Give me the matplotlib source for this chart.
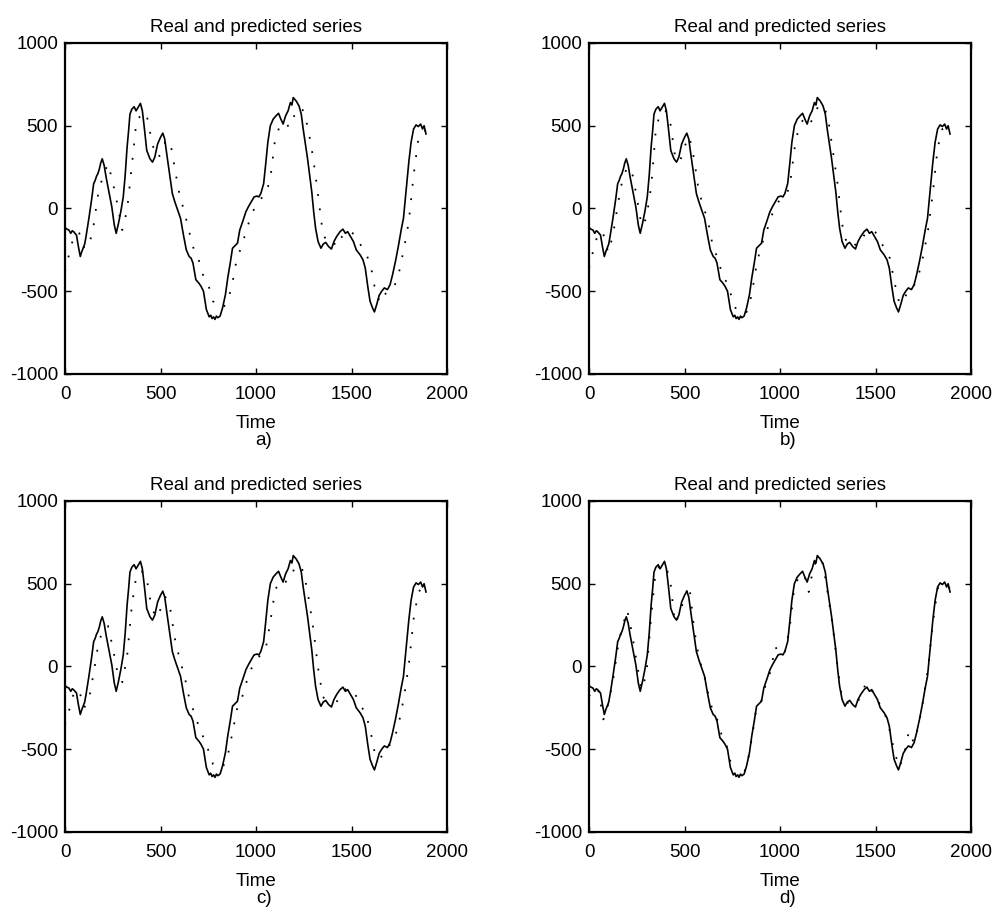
import matplotlib
matplotlib.use("Agg")
import matplotlib.pyplot as plt
import numpy as np

plt.rcParams['font.family'] = ['Liberation Sans', 'DejaVu Sans']
plt.rcParams['axes.unicode_minus'] = False

# real series (time, value)
t_real = [0, 10, 20, 30, 38, 45, 52, 60, 70, 80, 88, 95, 103, 110, 125, 140, 150, 158, 165,
          172, 180, 187, 195, 205, 215, 230, 245, 258, 268, 280, 292, 305, 315, 325, 333,
          340, 350, 362, 372, 382, 395, 405, 415, 428, 445, 458, 470, 485, 500, 512, 522,
          535, 550, 562, 575, 590, 605, 620, 635, 650, 660, 670, 685, 700, 712, 725, 740,
          755, 763, 770, 778, 785, 793, 800, 812, 825, 840, 852, 865, 877, 890, 903, 915,
          930, 947, 960, 975, 990, 1005, 1015, 1025, 1040, 1050, 1062, 1075, 1090, 1105,
          1118, 1130, 1142, 1155, 1168, 1180, 1188, 1195, 1210, 1225, 1237, 1247, 1257,
          1270, 1282, 1292, 1302, 1312, 1325, 1340, 1352, 1365, 1380, 1395, 1408, 1422,
          1440, 1455, 1468, 1480, 1495, 1510, 1525, 1545, 1560, 1572, 1585, 1597, 1610,
          1620, 1632, 1645, 1658, 1672, 1688, 1702, 1715, 1730, 1745, 1760, 1772, 1785,
          1800, 1812, 1825, 1838, 1850, 1862, 1872, 1880, 1890]
real = [-115, -125, -130, -150, -135, -140, -150, -160, -230, -290, -260, -240, -215, -170,
        -60, 60, 150, 170, 195, 210, 240, 275, 300, 260, 190, 100, 10, -100, -150, -90, -20,
        70, 200, 370, 470, 570, 600, 615, 590, 610, 635, 590, 490, 350, 300, 280, 310, 390,
        430, 455, 420, 310, 190, 90, 40, -10, -60, -160, -250, -290, -300, -330, -430,
        -450, -470, -500, -610, -655, -645, -665, -655, -670, -650, -660, -650, -600, -520,
        -420, -330, -240, -225, -210, -130, -80, -20, 10, 40, 70, 75, 70, 90, 150, 260, 400,
        500, 540, 560, 575, 540, 510, 560, 590, 640, 625, 670, 650, 620, 570, 480, 400, 300,
        190, 100, -20, -120, -200, -240, -215, -205, -230, -245, -200, -170, -140, -125,
        -150, -140, -170, -200, -250, -280, -310, -360, -470, -560, -600, -625, -580, -525,
        -500, -480, -490, -460, -400, -320, -230, -130, -60, 100, 280, 400, 480, 505, 495,
        510, 480, 500, 450]

# predicted series, one per model, sampled every 25 steps
t_pred = list(range(0, 1901, 25))
pred_a = [-380, -260, -150, -150, -240, -230, -100, 100, 200, 270,
          160, 20, -130, -10, 260, 540, 560, 580, 430, 310,
          320, 400, 410, 240, 80, -20, -140, -250, -310, -410,
          -460, -560, -595, -600, -570, -460, -300, -230, -130, -40,
          20, 60, 80, 180, 420, 500, 520, 490, 560, 610,
          590, 470, 300, 80, -150, -210, -200, -230, -170, -135,
          -145, -165, -225, -270, -340, -500, -570, -520, -480, -470,
          -380, -240, -80, 200, 420, 470, 470]
pred_b = [-360, -240, -140, -155, -265, -165, 20, 175, 250, 220,
          70, -105, -60, 130, 480, 585, 590, 520, 320, 280,
          375, 435, 300, 100, 10, -90, -240, -300, -415, -450,
          -550, -625, -635, -625, -530, -355, -225, -160, -60, 10,
          55, 75, 125, 355, 505, 540, 505, 545, 620, 625,
          555, 360, 160, -95, -215, -200, -225, -190, -145, -130,
          -145, -190, -255, -300, -450, -575, -550, -480, -470, -405,
          -285, -130, 95, 365, 480, 490, 460]
pred_c = [-350, -250, -145, -150, -250, -200, -40, 140, 225, 245,
          115, -40, -95, 60, 370, 560, 575, 550, 375, 295,
          345, 420, 355, 170, 45, -55, -190, -275, -360, -430,
          -505, -590, -615, -610, -550, -410, -260, -195, -95, -15,
          40, 70, 100, 270, 460, 520, 510, 520, 590, 615,
          570, 415, 230, -10, -185, -205, -210, -210, -160, -130,
          -145, -180, -240, -285, -395, -540, -560, -500, -475, -440,
          -330, -185, 10, 285, 450, 480, 465]
pred_d = [-180, -130, -150, -320, -230, -90, 110, 240, 340, 200,
          20, -140, -50, 300, 590, 605, 615, 520, 260, 320,
          420, 490, 230, 50, -40, -170, -280, -330, -440, -490,
          -630, -665, -660, -610, -450, -260, -215, -110, -30, 120,
          70, 85, 230, 480, 545, 560, 450, 600, 660, 620,
          440, 250, 10, -200, -220, -220, -230, -170, -100, -145,
          -160, -240, -290, -390, -520, -610, -530, -390, -460, -360,
          -200, -10, 260, 470, 500, 490, 455]

panels = [
    ("a)", pred_a, [0.0654, 0.5926, 0.3843, 0.3606]),
    ("b)", pred_b, [0.5926, 0.5926, 0.3843, 0.3606]),
    ("c)", pred_c, [0.0654, 0.0937, 0.3843, 0.3606]),
    ("d)", pred_d, [0.5926, 0.0937, 0.3843, 0.3606]),
]

fig = plt.figure(figsize=(9.94, 9.18), dpi=100)

for tag, pred, rect in panels:
    ax = fig.add_axes(rect)
    ax.plot(t_real, real, color='black', lw=1.2)
    ax.plot(t_pred, pred, color='black', lw=1.3, linestyle=(0, (1, 7)))
    ax.set_xlim(0, 2000)
    ax.set_ylim(-1000, 1000)
    ax.set_xticks([0, 500, 1000, 1500, 2000])
    ax.set_yticks([-1000, -500, 0, 500, 1000])
    ax.tick_params(direction='in', length=4, width=1, top=True, right=True,
                   labelsize=13.5)
    ax.tick_params(axis='x', pad=9)
    ax.tick_params(axis='y', pad=5)
    for sp in ax.spines.values():
        sp.set_linewidth(1.6)
    ax.set_title("Real and predicted series", fontsize=13.5, pad=8)
    ax.set_xlabel("Time", fontsize=13.5, labelpad=8.5)
    ax.text(0.52, -0.2, tag, transform=ax.transAxes, fontsize=13.5,
            ha='center', va='center')

fig.savefig("out.png", dpi=100)
